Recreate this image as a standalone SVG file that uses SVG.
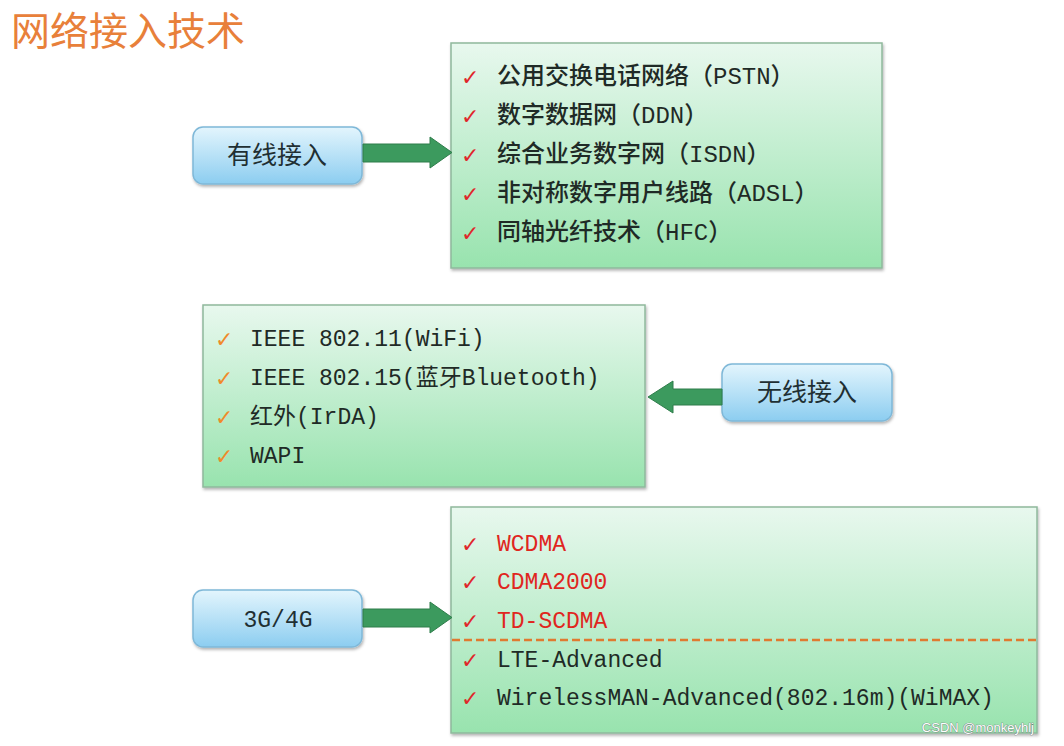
<svg xmlns="http://www.w3.org/2000/svg" width="1064" height="746" viewBox="0 0 1064 746">
<defs>
<linearGradient id="gGreen" x1="0" y1="0" x2="0" y2="1">
<stop offset="0" stop-color="#e8f8ee"/>
<stop offset="1" stop-color="#98e3ae"/>
</linearGradient>
<linearGradient id="gBlue" x1="0" y1="0" x2="0" y2="1">
<stop offset="0" stop-color="#e3f5fd"/>
<stop offset="1" stop-color="#8ccdf0"/>
</linearGradient>
<filter id="sh" x="-5%" y="-5%" width="110%" height="115%">
<feDropShadow dx="1" dy="2" stdDeviation="1.5" flood-color="#000" flood-opacity="0.3"/>
</filter>
<style>
.gbox{fill:url(#gGreen);stroke:#8fb89c;stroke-width:1.5;filter:url(#sh)}
.bbox{fill:url(#gBlue);stroke:#7fb8d8;stroke-width:1.5;filter:url(#sh)}
.btxt{font-family:"Noto Sans CJK SC",sans-serif;font-size:25px;fill:#1f2f33;text-anchor:middle}
.item{font-family:"Liberation Mono","Noto Sans CJK SC",monospace;font-size:23px;fill:#1f2a26}
.item1{font-family:"Liberation Mono","Noto Sans CJK SC",monospace;font-size:24px;fill:#1f2a26;font-weight:500}
.red{fill:#e0261e}
.chk{font-family:"DejaVu Sans",sans-serif;font-size:22px;fill:#e0262a}
.chko{font-family:"DejaVu Sans",sans-serif;font-size:22px;fill:#f08a2a}
.arrow{fill:#3c9a5e;stroke:#2f7d4b;stroke-width:1}
</style>
</defs>
<rect width="1064" height="746" fill="#ffffff"/>
<text x="11" y="45" font-family="Noto Sans CJK SC, sans-serif" font-size="39" fill="#e8803a">网络接入技术</text>

<g id="wired">
<rect class="bbox" x="193" y="127" width="169" height="57" rx="10"/>
<text class="btxt" x="277" y="164">有线接入</text>
</g>
<g id="wired-list">
<rect class="gbox" x="451" y="43" width="431" height="225"/>
<text class="chk" x="461" y="85">✓</text>
<text class="item1" x="497" y="84">公用交换电话网络（PSTN）</text>
<text class="chk" x="461" y="124">✓</text>
<text class="item1" x="497" y="123">数字数据网（DDN）</text>
<text class="chk" x="461" y="163">✓</text>
<text class="item1" x="497" y="162">综合业务数字网（ISDN）</text>
<text class="chk" x="461" y="202">✓</text>
<text class="item1" x="497" y="201">非对称数字用户线路（ADSL）</text>
<text class="chk" x="461" y="241">✓</text>
<text class="item1" x="497" y="240">同轴光纤技术（HFC）</text>
</g>

<g id="wireless">
<rect class="bbox" x="722" y="364" width="170" height="57" rx="10"/>
<text class="btxt" x="807" y="401">无线接入</text>
</g>
<g id="wireless-list">
<rect class="gbox" x="203" y="305" width="442" height="182"/>
<text class="chko" x="215" y="347">✓</text>
<text class="item" x="250" y="346">IEEE 802.11(WiFi)</text>
<text class="chko" x="215" y="386">✓</text>
<text class="item" x="250" y="385">IEEE 802.15(蓝牙Bluetooth)</text>
<text class="chko" x="215" y="425">✓</text>
<text class="item" x="250" y="424">红外(IrDA)</text>
<text class="chko" x="215" y="464">✓</text>
<text class="item" x="250" y="463">WAPI</text>
</g>

<g id="mobile">
<rect class="bbox" x="193" y="590" width="169" height="57" rx="10"/>
<text x="278" y="627" text-anchor="middle" font-family="Liberation Mono, monospace" font-size="23" fill="#1f2f33">3G/4G</text>
</g>
<g id="mobile-list">
<rect class="gbox" x="451" y="507" width="586" height="226"/>
<line x1="452" y1="640" x2="1036" y2="640" stroke="#e07a30" stroke-width="2.5" stroke-dasharray="8,4"/>
<text class="chk" x="461" y="552">✓</text>
<text class="item red" x="497" y="551">WCDMA</text>
<text class="chk" x="461" y="590">✓</text>
<text class="item red" x="497" y="589">CDMA2000</text>
<text class="chk" x="461" y="629">✓</text>
<text class="item red" x="497" y="628">TD-SCDMA</text>
<text class="chk" x="461" y="668">✓</text>
<text class="item" x="497" y="667">LTE-Advanced</text>
<text class="chk" x="461" y="706">✓</text>
<text class="item" x="497" y="705">WirelessMAN-Advanced(802.16m)(WiMAX)</text>
</g>

<g id="connectors">
<polygon class="arrow" points="363,144 430,144 430,137 452,152.5 430,168 430,162 363,162"/>
<polygon class="arrow" points="722,389 673,389 673,381 648,397 673,413 673,405 722,405"/>
<polygon class="arrow" points="363,609 430,609 430,602 452,617.5 430,633 430,627 363,627"/>
</g>

<text x="1034" y="732" text-anchor="end" font-family="Liberation Sans, sans-serif" font-size="13" fill="#ffffff" stroke="#6a7070" stroke-width="0.7" paint-order="stroke">CSDN @monkeyhlj</text>
</svg>
